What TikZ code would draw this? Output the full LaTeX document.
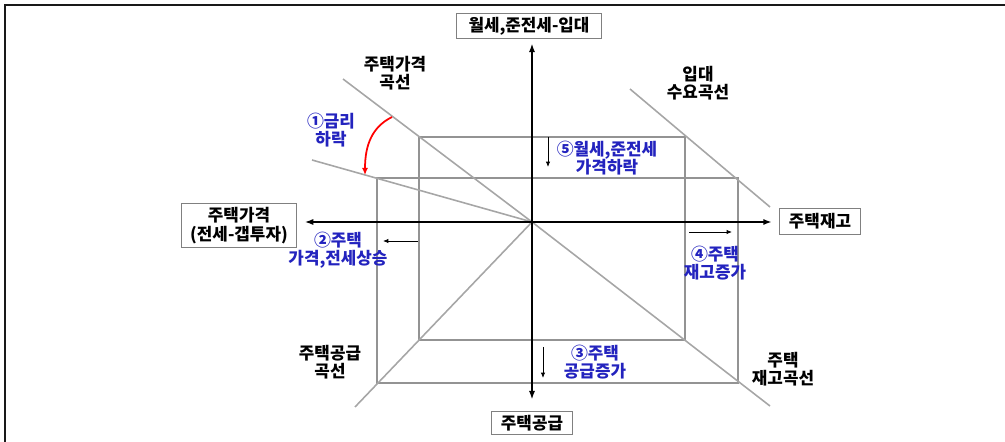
\documentclass[tikz,border=0pt]{standalone}
\usepackage{fontspec}
\setmainfont{Noto Sans CJK KR}
\usetikzlibrary{arrows.meta}
\definecolor{stepblue}{RGB}{35,35,190}

\begin{document}
\begin{tikzpicture}[x=0.02cm,y=-0.02cm,
        axis/.style={line width=1.4pt,black},
        curve/.style={line width=0.9pt,gray!70},
        level/.style={line width=0.8pt,gray!85},
        box/.style={draw=gray,line width=0.6pt,fill=white,inner sep=1pt,align=center,
            font=\bfseries\fontsize{9.6}{10.5}\selectfont},
        lbl/.style={align=center,font=\bfseries\fontsize{9.6}{10.5}\selectfont},
        movelbl/.style={lbl,text=stepblue},
        movearrow/.style={-{Latex[length=3pt,width=2.5pt]},line width=0.5pt}]

    \useasboundingbox (0,0) rectangle (1005,442);

    % Frame
    \draw[line width=1.5pt,gray!20!black] (1005,5) -- (5,5) -- (5,442);

    % Axis boxes
    \node[box,minimum width=82pt,minimum height=14.5pt] (rent) at (529,26) {월세,준전세-입대};
    \node[box,minimum width=65pt,minimum height=25pt] (price) at (239,225.5) {주택가격\\(전세-갭투자)};
    \node[box,minimum width=46pt,minimum height=15pt] (stock) at (820,221.5) {주택재고};
    \node[box,minimum width=46pt,minimum height=13.5pt] (supply) at (532,423) {주택공급};

    % Origin and corners
    \coordinate (o) at (532,222);
    \coordinate (inTL) at (419,137);
    \coordinate (inBR) at (685,340);
    \coordinate (outTL) at (377,178);
    \coordinate (outBR) at (738,383);

    % Rectangles
    \draw[level] (inTL) rectangle (inBR);
    \draw[level] (outTL) rectangle (outBR);

    % Curves
    \coordinate (pc1) at (343,79);
    \coordinate (pc2) at (312,160);
    \coordinate (dc1) at (630,89);
    \coordinate (dc2) at (770,207);
    \coordinate (sc) at (770,406);
    \coordinate (uc) at (355,407);
    \draw[curve] (pc1) -- (o);
    \draw[curve] (pc2) -- (o);
    \draw[curve] (dc1) -- (dc2);
    \draw[curve] (o) -- (sc);
    \draw[curve] (o) -- (uc);

    % Axes
    \draw[axis,{Latex[length=5pt,width=3.5pt]}-{Latex[length=5pt,width=3.5pt]},shorten <=6.2pt,shorten >=2.3pt]
        (o |- supply.north) -- (o |- rent.south);
    \draw[axis,{Latex[length=5pt,width=3.5pt]}-{Latex[length=5pt,width=3.5pt]},shorten <=4.5pt,shorten >=4pt]
        (price.east |- o) -- (stock.west |- o);

    % Rate drop
    \coordinate (r1) at (392,117);
    \coordinate (r2) at (365,175);
    \draw[red,line width=1pt,-{Latex[length=4pt,width=3.5pt]}] (r1) .. controls (372,127) and (365,145) .. (r2);

    % Shifts
    \coordinate (m5a) at (548,137); \coordinate (m5b) at (548,167);
    \coordinate (m2a) at (418,241); \coordinate (m2b) at (383,241);
    \coordinate (m4a) at (689,232); \coordinate (m4b) at (732,232);
    \coordinate (m3a) at (543,347); \coordinate (m3b) at (543,378);
    \draw[movearrow] (m5a) -- (m5b);
    \draw[movearrow] (m2a) -- (m2b);
    \draw[movearrow] (m4a) -- (m4b);
    \draw[movearrow] (m3a) -- (m3b);

    % Curve labels
    \node[lbl] (pclbl) at (395,73) {주택가격\\곡선};
    \node[lbl] (dclbl) at (698,83) {입대\\수요곡선};
    \node[lbl] (uclbl) at (330,362) {주택공급\\곡선};
    \node[lbl] (sclbl) at (783,369) {주택\\재고곡선};

    % Step labels
    \node[movelbl] (s1) at (331,130) {①금리\\하락};
    \node[movelbl] (s2) at (338,250) {②주택\\가격,전세상승};
    \node[movelbl] (s3) at (595,362) {③주택\\공급증가};
    \node[movelbl] (s4) at (715,263) {④주택\\재고증가};
    \node[movelbl] (s5) at (607,158) {⑤월세,준전세\\가격하락};
\end{tikzpicture}
\end{document}
